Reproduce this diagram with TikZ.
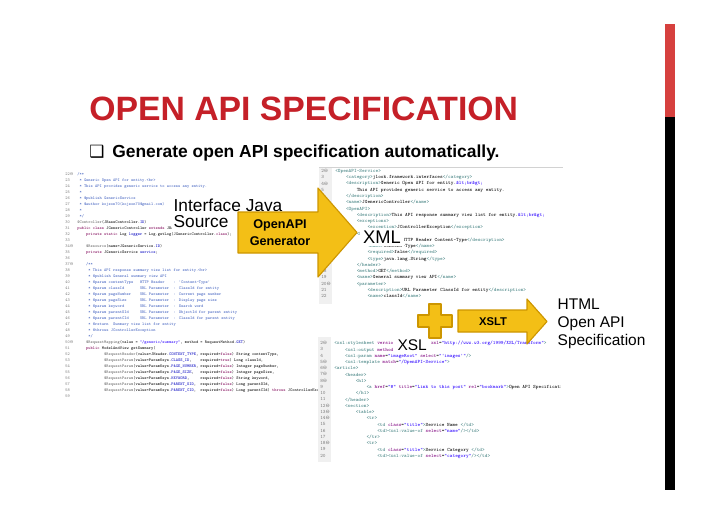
\documentclass[tikz,border=0pt]{standalone}
\usepackage{fontspec}
\setmainfont{Liberation Sans}
\newfontfamily\dejavu{DejaVu Sans}
\usepackage{xcolor}
\usepackage{tikz}

\definecolor{slidered}{RGB}{197,32,40}
\definecolor{barred}{RGB}{214,64,62}
\definecolor{arrowfill}{RGB}{243,191,22}
\definecolor{arrowedge}{RGB}{205,150,0}
\definecolor{gutter}{RGB}{240,240,240}
\definecolor{lnum}{RGB}{125,125,125}
\definecolor{jkw}{RGB}{127,0,85}
\definecolor{jcm}{RGB}{63,95,191}
\definecolor{jst}{RGB}{42,0,255}
\definecolor{jan}{RGB}{100,100,100}
\definecolor{jfd}{RGB}{0,0,192}
\definecolor{xtag}{RGB}{63,127,127}
\definecolor{xatt}{RGB}{127,0,127}
\definecolor{xval}{RGB}{42,0,255}

\newcommand\tb[1]{\hskip#1\fontdimen2\font\relax}
\newcommand\fold{{\dejavu\char"2296}}
\newcommand\cKw[1]{\textcolor{jkw}{#1}}
\newcommand\cCm[1]{\textcolor{jcm}{#1}}
\newcommand\cSt[1]{\textcolor{jst}{#1}}
\newcommand\cAn[1]{\textcolor{jan}{#1}}
\newcommand\cFd[1]{\textcolor{jfd}{#1}}
\newcommand\cTg[1]{\textcolor{xtag}{#1}}
\newcommand\cAt[1]{\textcolor{xatt}{#1}}
\newcommand\cVl[1]{\textcolor{xval}{#1}}
\newcommand\javafont{\fontsize{3}{4.27}\selectfont\ttfamily}
\newcommand\xmlfont{\fontsize{3.6}{4.45}\selectfont\ttfamily}

\begin{document}
\begin{tikzpicture}[x=0.025cm,y=-0.025cm,
  code/.style={inner sep=0pt,align=left,anchor=north west},
  lnums/.style={code,text=lnum},
  lbl/.style={inner sep=1pt},
  blockarrow/.style={fill=arrowfill,draw=arrowedge,line width=0.8pt,line join=round}]
\useasboundingbox (0,0) rectangle (728,514);
\fill[white] (0,0) rectangle (728,514);

% title and bullet
\node[anchor=base west,inner sep=0pt,text=slidered,font=\bfseries\fontsize{24}{28}\selectfont] (title) at (89,120) {OPEN API SPECIFICATION};
\node[anchor=base west,inner sep=0pt,font=\dejavu\fontsize{12}{14}\selectfont] (bulletbox) at (89,157) {❑};
\node[anchor=base west,inner sep=0pt,font=\bfseries\fontsize{12.4}{14}\selectfont] (bullettext) at (112,157) {Generate open API specification automatically.};

% side bar
\fill[barred] (665,24) rectangle (675,117);
\fill[black] (665,117) rectangle (675,490);

% java source
\node[lnums,font=\javafont] (javanum) at (65,172.5) {22\fold\\23\\24\\25\\26\\27\\28\\29\\30\\31\\32\\33\\34\fold\\35\\36\\37\fold\\38\\39\\40\\41\\42\\43\\44\\45\\46\\47\\48\\49\\50\fold\\51\\52\\53\\54\\55\\56\\57\\58\\59};
\node[code,font=\javafont] (javacode) at (77,172.5) {%
\cCm{/**}\\
\tb1\cCm{* Generic Open API for entity.<br>}\\
\tb1\cCm{* This API provides generic service to access any entity.}\\
\tb1\cCm{*}\\
\tb1\cCm{* @publish GenericService}\\
\tb1\cCm{* @author kojeon70(kojeon70@gmail.com)}\\
\tb1\cCm{*}\\
\tb1\cCm{*/}\\
\cAn{@Controller}(JBaseController.\cFd{ID})\\
\cKw{public class} JGenericController \cKw{extends} JBaseController \{\\
\tb4\cKw{private static} Log \cFd{logger} = Log.getLog(JGenericController.\cKw{class});\\
\mbox{}\\
\tb4\cAn{@Resource}(name=JGenericService.\cFd{ID})\\
\tb4\cKw{private} JGenericService \cFd{service};\\
\mbox{}\\
\tb4\cCm{/**}\\
\tb5\cCm{* This API response summary view list for entity.<br>}\\
\tb5\cCm{* @publish General summary view API}\\
\tb5\cCm{* @param contentType\tb3HTTP Header\tb4: 'Content-Type'}\\
\tb5\cCm{* @param classId\tb7URL Parameter\tb2: ClassId for entity}\\
\tb5\cCm{* @param pageNumber\tb4URL Parameter\tb2: Current page number}\\
\tb5\cCm{* @param pageSize\tb6URL Parameter\tb2: Display page size}\\
\tb5\cCm{* @param keyword\tb7URL Parameter\tb2: Search word}\\
\tb5\cCm{* @param parentOId\tb5URL Parameter\tb2: ObjectId for parent entity}\\
\tb5\cCm{* @param parentCId\tb5URL Parameter\tb2: ClassId for parent entity}\\
\tb5\cCm{* @return\tb2Summary view list for entity}\\
\tb5\cCm{* @throws JControllerException}\\
\tb5\cCm{*/}\\
\tb4\cAn{@RequestMapping}(value = \cSt{"/generic/summary"}, method = RequestMethod.\cFd{GET})\\
\tb4\cKw{public} ModelAndView getSummary(\\
\tb{12}\cAn{@RequestHeader}(value=JHeader.\cFd{CONTENT\_TYPE}, required=\cKw{false}) String contentType,\\
\tb{12}\cAn{@RequestParam}(value=ParamKeys.\cFd{CLASS\_ID},\tb4required=\cKw{true}) Long classId,\\
\tb{12}\cAn{@RequestParam}(value=ParamKeys.\cFd{PAGE\_NUMBER},\tb1required=\cKw{false}) Integer pageNumber,\\
\tb{12}\cAn{@RequestParam}(value=ParamKeys.\cFd{PAGE\_SIZE},\tb3required=\cKw{false}) Integer pageSize,\\
\tb{12}\cAn{@RequestParam}(value=ParamKeys.\cFd{KEYWORD},\tb5required=\cKw{false}) String keyword,\\
\tb{12}\cAn{@RequestParam}(value=ParamKeys.\cFd{PARENT\_OID},\tb2required=\cKw{false}) Long parentOId,\\
\tb{12}\cAn{@RequestParam}(value=ParamKeys.\cFd{PARENT\_CID},\tb2required=\cKw{false}) Long parentCId) \cKw{throws} JControllerException \{\\
\mbox{}};

% xml output
\fill[white] (319,167) rectangle (563,304);
\fill[gutter] (319,167) rectangle (332,304);
\draw[gray!35,line width=0.4pt] (319,167) -- (563,167);
\node[lnums,font=\xmlfont] (xmlnum) at (321,169) {2\fold\\3\\4\fold\\5\\6\\7\\8\fold\\9\fold\\10\\11\\12\fold\\13\\14\\15\\16\\17\\18\\19\\20\fold\\21\\22};
\begin{scope}
\clip (332,160) rectangle (561,306);
\node[code,font=\xmlfont] (xmlcode) at (335,169) {%
\cTg{<OpenAPI-Service>}\\
\tb4\cTg{<category>}jlook.framework.interfaces\cTg{</category>}\\
\tb4\cTg{<description>}Generic Open API for entity.\cVl{\&lt;br\&gt;}\\
\tb8This API provides generic service to access any entity.\\
\tb4\cTg{</description>}\\
\tb4\cTg{<name>}JGenericController\cTg{</name>}\\
\tb4\cTg{<OpenAPI>}\\
\tb8\cTg{<description>}This API response summary view list for entity.\cVl{\&lt;br\&gt;}\\
\tb8\cTg{<exceptions>}\\
\tb{12}\cTg{<exception>}JControllerException\cTg{</exception>}\\
\tb8\cTg{<header>}\\
\tb{12}\cTg{<description>}HTTP Header Content-Type\cTg{</description>}\\
\tb{12}\cTg{<name>}Content-Type\cTg{</name>}\\
\tb{12}\cTg{<required>}false\cTg{</required>}\\
\tb{12}\cTg{<type>}java.lang.String\cTg{</type>}\\
\tb8\cTg{</header>}\\
\tb8\cTg{<method>}GET\cTg{</method>}\\
\tb8\cTg{<name>}General summary view API\cTg{</name>}\\
\tb8\cTg{<parameter>}\\
\tb{12}\cTg{<description>}URL Parameter ClassId for entity\cTg{</description>}\\
\tb{12}\cTg{<name>}classId\cTg{</name>}};
\end{scope}

% xsl stylesheet
\fill[white] (318,337) rectangle (563,462);
\fill[gutter] (318,337) rectangle (331,462);
\node[lnums,font=\xmlfont] (xslnum) at (320,341) {2\fold\\3\\4\\5\fold\\6\fold\\7\fold\\8\fold\\9\\10\\11\\12\fold\\13\fold\\14\fold\\15\\16\\17\\18\fold\\19\\20};
\begin{scope}
\clip (331,335) rectangle (560,464);
\node[code,font=\xmlfont] (xslcode) at (334,341) {%
\cTg{<xsl:stylesheet} \cAt{version}=\cVl{"1.0"} \cAt{xmlns:xsl}=\cVl{"http://www.w3.org/1999/XSL/Transform"}\cTg{>}\\
\tb4\cTg{<xsl:output} \cAt{method}=\cVl{"html"}\cTg{/>}\\
\tb4\cTg{<xsl:param} \cAt{name}=\cVl{"imageRoot"} \cAt{select}=\cVl{"'images'"}\cTg{/>}\\
\tb4\cTg{<xsl:template} \cAt{match}=\cVl{"/OpenAPI-Service"}\cTg{>}\\
\cTg{<article>}\\
\tb4\cTg{<header>}\\
\tb8\cTg{<h1>}\\
\tb{12}\cTg{<a} \cAt{href}=\cVl{"\#"} \cAt{title}=\cVl{"Link to this post"} \cAt{rel}=\cVl{"bookmark"}\cTg{>}Open API Specification\cTg{</a>}\\
\tb8\cTg{</h1>}\\
\tb4\cTg{</header>}\\
\tb4\cTg{<section>}\\
\tb8\cTg{<table>}\\
\tb{12}\cTg{<tr>}\\
\tb{16}\cTg{<td} \cAt{class}=\cVl{"title"}\cTg{>}Service Name \cTg{</td>}\\
\tb{16}\cTg{<td><xsl:value-of} \cAt{select}=\cVl{"name"}\cTg{/></td>}\\
\tb{12}\cTg{</tr>}\\
\tb{12}\cTg{<tr>}\\
\tb{16}\cTg{<td} \cAt{class}=\cVl{"title"}\cTg{>}Service Category \cTg{</td>}\\
\tb{16}\cTg{<td><xsl:value-of} \cAt{select}=\cVl{"category"}\cTg{/></td>}};
\end{scope}

% labels over the screenshots
\node[lbl,fill=white,anchor=north west,align=left,font=\fontsize{12.3}{11.6}\selectfont] (srclbl) at (172,197) {Interface Java\\Source};
\node[lbl,fill=white,anchor=base west,inner sep=2pt,font=\fontsize{13}{15}\selectfont] (xmllbl) at (360,243) {XML};
\node[lbl,fill=white,anchor=base west,inner xsep=3pt,inner ysep=2.5pt,font=\fontsize{11}{13}\selectfont] (xsllbl) at (393,350) {XSL};
\node[lbl,anchor=north west,align=left,font=\fontsize{11}{12.8}\selectfont] (htmllbl) at (556,297) {HTML\\Open API\\Specification};

% block arrows and plus
\draw[blockarrow] (238,212) -- (318,212) -- (318,188) -- (357,232.5) -- (318,277) -- (318,253) -- (238,253) -- cycle;
\node[font=\bfseries\fontsize{9}{12}\selectfont,align=center] (genlbl) at (280,232.5) {OpenAPI\\Generator};
\draw[blockarrow] (429,304) -- (441,304) -- (441,315) -- (452,315) -- (452,327) -- (441,327) -- (441,338) -- (429,338) -- (429,327) -- (418,327) -- (418,315) -- (429,315) -- cycle;
\draw[blockarrow] (458,310) -- (527,310) -- (527,299) -- (547,321.5) -- (527,344) -- (527,332) -- (458,332) -- cycle;
\node[font=\bfseries\fontsize{8}{9}\selectfont] (xsltlbl) at (493,321.5) {XSLT};
\end{tikzpicture}
\end{document}
